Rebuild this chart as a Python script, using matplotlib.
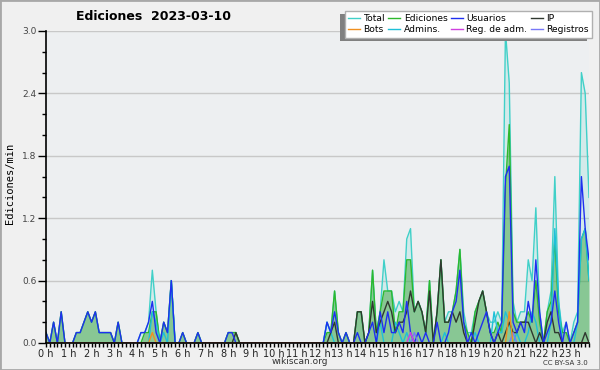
import numpy as np
import matplotlib
matplotlib.use('Agg')
import matplotlib.pyplot as plt
from matplotlib.patches import Rectangle
from matplotlib.transforms import IdentityTransform
from matplotlib.ticker import MultipleLocator

# edits per minute, one value per 10 minutes (2 hours per row)
total = [0.1,0,0.2,0,0.3,0, 0,0,0.1,0.1,0.2,0.3,
         0.2,0.3,0.1,0.1,0.1,0.1, 0,0.2,0,0,0,0,
         0,0.1,0.1,0.2,0.7,0.3, 0,0.2,0.1,0.6,0,0,
         0.1,0,0,0,0.1,0, 0,0,0,0,0,0,
         0.1,0.1,0.1,0,0,0, 0,0,0,0,0,0,
         0,0,0,0,0,0, 0,0,0,0,0,0,
         0,0,0.2,0.1,0.5,0.1, 0,0.1,0,0,0.3,0.3,
         0,0.1,0.7,0.1,0.3,0.8, 0.5,0.5,0.3,0.4,0.3,1.0,
         1.1,0.3,0.4,0.3,0.1,0.6, 0,0.3,0.8,0.2,0.3,0.3,
         0.5,0.9,0.3,0.1,0.1,0.3, 0.4,0.5,0.3,0.2,0.2,0.3,
         0.2,3.0,2.5,0.4,0.2,0.3, 0.3,0.8,0.6,1.3,0.3,0,
         0.3,0.5,1.6,0.4,0.1,0.2, 0,0.2,0.3,2.6,2.4,1.4]
ediciones = [0.1,0,0.2,0,0.3,0, 0,0,0.1,0.1,0.2,0.3,
             0.2,0.3,0.1,0.1,0.1,0.1, 0,0.2,0,0,0,0,
             0,0,0.1,0.1,0.3,0.3, 0,0.2,0.1,0.6,0,0,
             0.1,0,0,0,0.1,0, 0,0,0,0,0,0,
             0.1,0.1,0.1,0,0,0, 0,0,0,0,0,0,
             0,0,0,0,0,0, 0,0,0,0,0,0,
             0,0,0.1,0.1,0.5,0.1, 0,0.1,0,0,0.3,0.3,
             0,0.1,0.7,0.1,0.3,0.5, 0.5,0.5,0.1,0.3,0.3,0.8,
             0.8,0.3,0.4,0.3,0.1,0.6, 0,0.3,0.8,0.2,0.2,0.3,
             0.5,0.9,0.2,0.1,0,0.3, 0.4,0.5,0.3,0.1,0.1,0.2,
             0.1,1.5,2.1,0.3,0.2,0.2, 0.2,0.3,0.2,0.6,0.2,0,
             0.3,0.4,1.0,0.3,0.1,0.1, 0,0.1,0.2,1.0,1.1,0.6]
usuarios = [0.1,0,0.2,0,0.3,0, 0,0,0.1,0.1,0.2,0.3,
            0.2,0.3,0.1,0.1,0.1,0.1, 0,0.2,0,0,0,0,
            0,0.1,0.1,0.2,0.4,0.1, 0,0.2,0.1,0.6,0,0,
            0.1,0,0,0,0.1,0, 0,0,0,0,0,0,
            0.1,0.1,0,0,0,0, 0,0,0,0,0,0,
            0,0,0,0,0,0, 0,0,0,0,0,0,
            0,0,0.2,0.1,0.3,0.1, 0,0.1,0,0,0.1,0,
            0,0.1,0.2,0,0.3,0.1, 0.3,0.1,0.1,0.2,0.1,0.4,
            0.1,0,0.1,0,0.1,0, 0,0.2,0,0,0.1,0.3,
            0.4,0.7,0.2,0,0.1,0, 0.1,0.2,0.3,0.1,0,0.1,
            0.2,1.6,1.7,0.2,0.1,0.2, 0.1,0.4,0.2,0.8,0.3,0,
            0.1,0.2,0.5,0.2,0,0.2, 0,0.1,0.2,1.6,1.1,0.8]
ip = [0,0,0,0,0,0, 0,0,0,0,0,0,
      0,0,0,0,0,0, 0,0,0,0,0,0,
      0,0,0,0,0,0, 0,0,0,0,0,0,
      0,0,0,0,0,0, 0,0,0,0,0,0,
      0,0,0.1,0,0,0, 0,0,0,0,0,0,
      0,0,0,0,0,0, 0,0,0,0,0,0,
      0,0,0,0.1,0.2,0, 0,0,0,0,0.3,0.3,
      0,0.1,0.4,0.1,0.2,0.3, 0.4,0.3,0.1,0.2,0.2,0.3,
      0.5,0.3,0.4,0.3,0.1,0.5, 0,0.3,0.8,0.2,0.2,0.3,
      0.2,0.3,0.1,0,0,0.2, 0.4,0.5,0.3,0.1,0,0.1,
      0,0.1,0.2,0.1,0.1,0.2, 0.2,0.2,0.1,0,0.1,0,
      0.2,0.3,0.1,0.1,0,0, 0,0,0,0,0.1,0]
admins = [0,0,0,0,0,0, 0,0,0,0,0,0,
          0,0,0,0,0,0, 0,0,0,0,0,0,
          0,0,0,0,0.3,0.2, 0,0.1,0,0.6,0,0,
          0,0,0,0,0,0, 0,0,0,0,0,0,
          0,0,0,0,0,0, 0,0,0,0,0,0,
          0,0,0,0,0,0, 0,0,0,0,0,0,
          0,0,0.2,0.1,0,0, 0,0,0,0,0,0,
          0,0,0,0,0.2,0, 0,0,0.2,0.1,0,0.1,
          0,0,0,0,0,0, 0,0,0,0.1,0,0,
          0,0,0,0,0,0.1, 0,0,0,0,0.3,0.1,
          0.1,0.3,0.2,0,0.1,0, 0,0.1,0.3,0.2,0,0,
          0,0.2,1.1,0.4,0,0, 0,0,0.2,1.0,1.1,0.6]
bots = [0]*28 + [0.1] + [0]*93 + [0.3] + [0]*21
reg_adm = [0]*96 + [0.1] + [0]*47
registros = [0]*97 + [0.1] + [0]*25 + [0.1] + [0]*20
hour_labels = [f'{h} h' for h in range(24)]

x = np.arange(len(total)) / 6.0

fig = plt.figure(figsize=(6, 3.7), dpi=100, facecolor='#f0f0f0')
fig.patches.append(Rectangle((0, 0), 1, 1, transform=fig.transFigure, fill=False,
                             edgecolor='#a8a8a8', lw=2))
ax = fig.add_axes([46/600, 1-343/370, 543/600, 312/370])
ax.set_facecolor('#edeff1')

ax.fill_between(x, total, 0, color='#40d0c8', alpha=0.15, lw=0)
ax.fill_between(x, ediciones, 0, color='#2d9e2d', alpha=0.45, lw=0)
lw = 1.0
h_total, = ax.plot(x, total, color='#40d0c8', lw=lw)
h_ed, = ax.plot(x, ediciones, color='#2db82d', lw=lw)
h_adm, = ax.plot(x, admins, color='#1ec0d8', lw=lw)
h_ip, = ax.plot(x, ip, color='#303830', lw=lw)
h_us, = ax.plot(x, usuarios, color='#1f2ff0', lw=lw)
h_reg, = ax.plot(x, registros, color='#7878f8', lw=lw)
h_radm, = ax.plot(x, reg_adm, color='#d040e0', lw=lw)
h_bots, = ax.plot(x, bots, color='#f09020', lw=lw)

ax.set_xlim(0, x[-1])
ax.set_ylim(0, 3.0)
ax.set_xticks(range(24))
ax.set_xticklabels(hour_labels)
ax.xaxis.set_minor_locator(MultipleLocator(1/6))
ax.yaxis.set_major_locator(MultipleLocator(0.6))
ax.yaxis.set_minor_locator(MultipleLocator(0.2))
ax.yaxis.set_major_formatter(matplotlib.ticker.FormatStrFormatter('%.1f'))
ax.tick_params(axis='x', which='both', length=3, width=1, direction='out', pad=1,
               labelsize=7, labelcolor='#222222')
ax.tick_params(axis='y', which='major', length=6, width=1, pad=1, labelsize=6.5,
               labelcolor='#444444')
ax.tick_params(axis='y', which='minor', length=3, width=1)
ax.yaxis.grid(True, color='#c8c8c8', lw=1)
ax.set_axisbelow(True)
for s in ['top', 'right']:
    ax.spines[s].set_visible(False)
for s in ['left', 'bottom']:
    ax.spines[s].set_linewidth(1.2)

fig.text(154/600, 1-16/370, 'Ediciones  2023-03-10', ha='center', va='center',
         fontsize=9, fontweight='bold')
fig.text(10/600, 1-183/370, 'Ediciones/min', rotation=90, ha='center', va='center',
         fontsize=7.5, family='DejaVu Sans Mono')
fig.text(300/600, 1-362/370, 'wikiscan.org', ha='center', va='center', fontsize=6.5,
         color='#333333')
fig.text(588/600, 1-363/370, 'CC BY-SA 3.0', ha='right', va='center', fontsize=5,
         color='#333333')

handles = [h_total, h_bots, h_ed, h_adm, h_us, h_radm, h_ip, h_reg]
labels = ['Total', 'Bots', 'Ediciones', 'Admins.', 'Usuarios', 'Reg. de adm.', 'IP', 'Registros']
leg = ax.legend(handles, labels, ncol=4, loc='upper right',
                bbox_to_anchor=(592/600, 1-11/370), bbox_transform=fig.transFigure,
                fontsize=6.6, frameon=True, fancybox=False, edgecolor='#b0b0b0',
                framealpha=1, handlelength=1.3, handletextpad=0.4, columnspacing=0.35,
                borderpad=0.35, labelspacing=0.25, borderaxespad=0)
leg.get_frame().set_linewidth(1)
leg.set_zorder(10)

fig.canvas.draw()
bb = leg.get_window_extent()
shadow = Rectangle((bb.x0 - 5, bb.y0 - 3), bb.width, bb.height, transform=IdentityTransform(),
                   facecolor='#808080', edgecolor='none', clip_on=False, zorder=9)
ax.add_patch(shadow)

fig.savefig('out.png', dpi=100, facecolor=fig.get_facecolor())
